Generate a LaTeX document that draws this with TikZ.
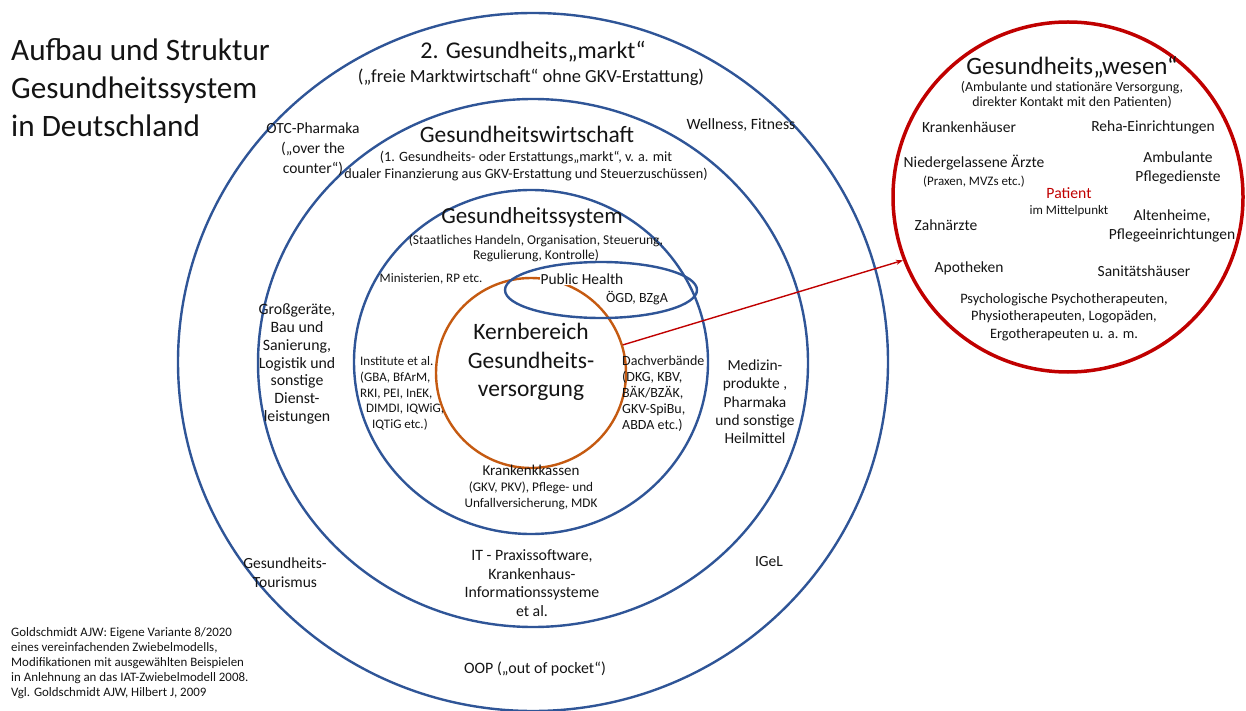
\documentclass[tikz,border=0pt]{standalone}
\usepackage{fontspec}
\setmainfont{Carlito}
\usetikzlibrary{shapes.geometric,arrows.meta}
\definecolor{ringblue}{RGB}{47,85,151}
\definecolor{coreorange}{RGB}{197,90,17}
\definecolor{wesenred}{RGB}{192,0,0}
\definecolor{txt}{RGB}{20,20,20}
\newcommand\myfs[2]{\fontsize{#1}{#2}\selectfont}
\tikzset{
  ring/.style={ellipse, draw=ringblue, line width=2.4pt, inner sep=0pt},
  lbl/.style={inner sep=0pt, align=center, text=txt},
}
\begin{document}
\begin{tikzpicture}[x=1pt,y=-1pt]
\useasboundingbox (0,0) rectangle (1246,711);
% rings
\node[ring, minimum width=710pt, minimum height=698pt] (outer) at (533,362) {};
\node[ring, minimum width=550pt, minimum height=528pt] (wirt) at (533,363) {};
\node[ring, minimum width=354pt, minimum height=344pt] (system) at (531,362) {};
\node[ellipse, draw=coreorange, line width=2.4pt, inner sep=0pt, minimum width=190pt, minimum height=190pt] (kern) at (531,373) {};
\node[ring, minimum width=192pt, minimum height=56pt] (ph) at (601,290) {};
\node[ellipse, draw=wesenred, line width=3.5pt, inner sep=0pt, minimum width=350pt, minimum height=350pt] (wesen) at (1068,197) {};
% connector
\draw[wesenred, line width=1.4pt, -{Stealth[length=7pt,width=5pt]}] (kern.17) -- (wesen.201);
% title
\node[lbl, align=left, anchor=west, font=\myfs{31.2}{38}] (title) at (11,88) {Aufbau und Struktur\\Gesundheitssystem\\in Deutschland};
% outer ring texts
\node[lbl, font=\myfs{24}{28}] (markt) at (533,52) {2. Gesundheits„markt“};
\node[lbl, font=\myfs{18.5}{20}] (marktsub) at (531,77) {(„freie Marktwirtschaft“ ohne GKV-Erstattung)};
\node[lbl, font=\myfs{15.5}{20}] (otc) at (313,149) {OTC-Pharmaka\\(„over the\\counter“)};
\node[lbl, font=\myfs{15.7}{18}] (well) at (741,125) {Wellness, Fitness};
\node[lbl, font=\myfs{15.5}{19}] (tour) at (285,573) {Gesundheits-\\Tourismus};
\node[lbl, font=\myfs{15.5}{18}] (igel) at (769,562) {IGeL};
\node[lbl, font=\myfs{15.9}{18}] (oop) at (535,669) {OOP („out of pocket“)};
% second ring texts
\node[lbl, font=\myfs{23.5}{26}] (wirttitle) at (527,134) {Gesundheitswirtschaft};
\node[lbl, font=\myfs{14.2}{16.5}] (wirtsub) at (526,166) {(1. Gesundheits- oder Erstattungs„markt“, v. a. mit\\dualer Finanzierung aus GKV-Erstattung und Steuerzuschüssen)};
\node[lbl, font=\myfs{15.8}{17.8}] (gross) at (297,364) {Großgeräte,\\Bau und\\Sanierung,\\Logistik und\\sonstige\\Dienst-\\leistungen};
\node[lbl, font=\myfs{15.4}{18.3}] (medizin) at (755,402) {Medizin-\\produkte ,\\Pharmaka\\und sonstige\\Heilmittel};
\node[lbl, font=\myfs{15.8}{18.5}] (it) at (532,583) {IT - Praxissoftware,\\Krankenhaus-\\Informationssysteme\\et al.};
% third ring texts
\node[lbl, font=\myfs{23}{26}] (systitle) at (532,217) {Gesundheitssystem};
\node[lbl, font=\myfs{13.5}{15}] (syssub) at (536,248) {(Staatliches Handeln, Organisation, Steuerung,\\Regulierung, Kontrolle)};
\node[lbl, font=\myfs{13}{14}] (minist) at (431,279) {Ministerien, RP etc.};
\node[lbl, fill=white, inner sep=1pt, font=\myfs{15.4}{17}] (phtitle) at (582,279) {Public Health};
\node[lbl, font=\myfs{14}{15}] (oegd) at (637,298) {ÖGD, BZgA};
\node[lbl, align=left, anchor=north west, font=\myfs{13}{15.9}] (inst) at (360,356) {Institute et al.\\(GBA, BfArM,\\RKI, PEI, InEK,\\\hspace*{6pt}DIMDI, IQWiG,\\\hspace*{12pt}IQTiG etc.)};
\node[lbl, align=left, anchor=north west, font=\myfs{14}{15.9}] (dach) at (622,356) {Dachverbände\\(DKG, KBV,\\BÄK/BZÄK,\\GKV-SpiBu,\\ABDA etc.)};
\node[lbl, font=\myfs{15}{17}] (kasse) at (531,470) {Krankenkkassen};
\node[lbl, font=\myfs{13.2}{15.5}] (kassesub) at (531,496) {(GKV, PKV), Pflege- und\\Unfallversicherung, MDK};
% core
\node[lbl, font=\myfs{23.5}{28.5}] (kerntext) at (531,362) {Kernbereich\\Gesundheits-\\versorgung};
% Gesundheitswesen
\node[lbl, font=\myfs{25}{26}] (wesentitle) at (1072,67) {Gesundheits„wesen“};
\node[lbl, font=\myfs{13.9}{15.5}] (wesensub) at (1072,95) {(Ambulante und stationäre Versorgung,\\direkter Kontakt mit den Patienten)};
\node[lbl, font=\myfs{15.5}{18}] (kh) at (969,127) {Krankenhäuser};
\node[lbl, font=\myfs{15.5}{18}] (reha) at (1153,127) {Reha-Einrichtungen};
\node[lbl, font=\myfs{15.5}{18}] (aerzte) at (974,163) {Niedergelassene Ärzte};
\node[lbl, font=\myfs{13}{14}] (praxen) at (974,182) {(Praxen, MVZs etc.)};
\node[lbl, font=\myfs{15.5}{19.5}] (amb) at (1178,168) {Ambulante\\Pflegedienste};
\node[lbl, text=wesenred, font=\myfs{15.7}{16}] (patient) at (1069,193) {Patient};
\node[lbl, font=\myfs{13}{14}] (mittel) at (1069,211) {im Mittelpunkt};
\node[lbl, font=\myfs{15.5}{18}] (zahn) at (946,225) {Zahnärzte};
\node[lbl, font=\myfs{15.5}{19.5}] (alten) at (1172,226) {Altenheime,\\Pflegeeinrichtungen};
\node[lbl, font=\myfs{15.5}{18}] (apo) at (969,268) {Apotheken};
\node[lbl, font=\myfs{15.5}{18}] (sani) at (1144,271) {Sanitätshäuser};
\node[lbl, font=\myfs{14.4}{17.5}] (psych) at (1064,317) {Psychologische Psychotherapeuten,\\Physiotherapeuten, Logopäden,\\Ergotherapeuten u. a. m.};
% credit
\node[lbl, align=left, anchor=north west, font=\myfs{12.9}{15}] (credit) at (11,627) {Goldschmidt AJW: Eigene Variante 8/2020\\eines vereinfachenden Zwiebelmodells,\\Modifikationen mit ausgewählten Beispielen\\in Anlehnung an das IAT-Zwiebelmodell 2008.\\Vgl. Goldschmidt AJW, Hilbert J, 2009};
\end{tikzpicture}
\end{document}
